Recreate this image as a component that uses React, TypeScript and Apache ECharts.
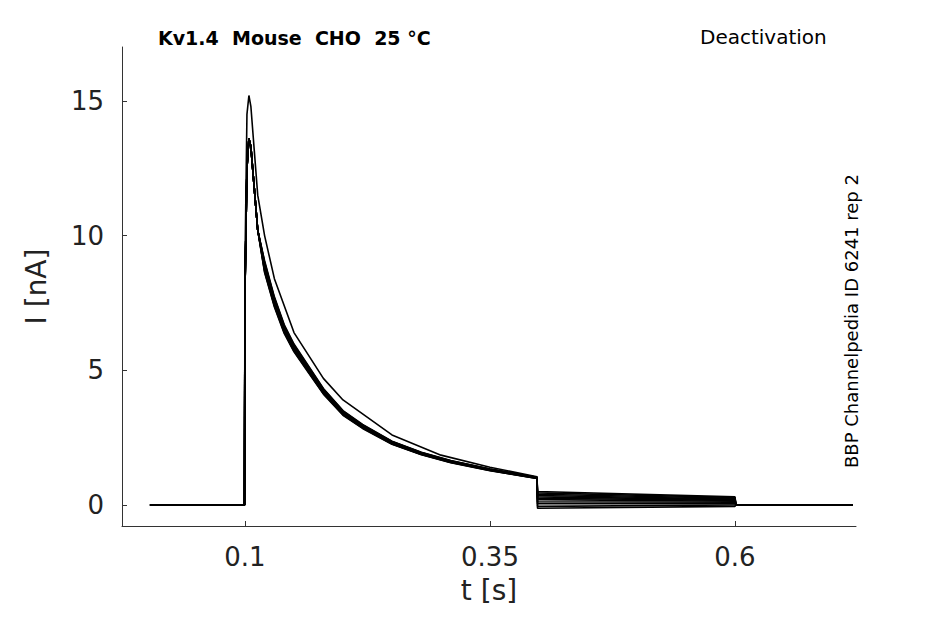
import { useEffect, useRef } from 'react'
import * as echarts from 'echarts'

const X_TICKS = [0.1, 0.35, 0.6]
const Y_TICKS = [0, 5, 10, 15]

// main (bulk) trace, [t, I]
const MAIN_TRACE: [number, number][] = [
  [0.003, 0], [0.0995, 0], [0.1, 8], [0.102, 12.5], [0.104, 13.6], [0.106, 13.3],
  [0.113, 10.2], [0.12, 8.8], [0.13, 7.5], [0.14, 6.5], [0.15, 5.8], [0.165, 5.0],
  [0.18, 4.2], [0.2, 3.4], [0.22, 2.9], [0.25, 2.3], [0.28, 1.9], [0.31, 1.6],
  [0.35, 1.3], [0.398, 1.0],
]
// first sweep, larger peak
const HIGH_TRACE: [number, number][] = [
  [0.003, 0], [0.0995, 0], [0.1, 9], [0.102, 14.5], [0.104, 15.2], [0.106, 14.8],
  [0.113, 11.5], [0.12, 10.0], [0.13, 8.4], [0.15, 6.4], [0.18, 4.7], [0.2, 3.9],
  [0.25, 2.6], [0.3, 1.85], [0.35, 1.4], [0.398, 1.05],
]
// slight spread in the decay band
const BAND_OFFSETS = [0, 0.15, -0.15, 0.3, -0.1, 0.2, 0.05, -0.2, 0.1, 0.25]
// tail levels at 0.4 s and 0.6 s per sweep
const TAIL_START = [0.5, 0.45, 0.4, 0.35, 0.3, 0.25, 0.2, 0.12, 0.05, -0.05, -0.12]
const TAIL_END = [0.3, 0.28, 0.25, 0.22, 0.2, 0.17, 0.14, 0.1, 0.05, 0, -0.05]

function buildSeries() {
  const series: any[] = []
  TAIL_START.forEach((start, i) => {
    const base = i === 0 ? HIGH_TRACE : MAIN_TRACE
    const off = i === 0 ? 0 : BAND_OFFSETS[(i - 1) % BAND_OFFSETS.length]
    const pts = base.map(([t, v]) => [t, t > 0.115 ? v * (1 + off * 0.1) : v])
    pts.push([0.3985, start], [0.6, TAIL_END[i]], [0.601, 0], [0.72, 0])
    series.push({
      type: 'line',
      data: pts,
      showSymbol: false,
      lineStyle: { color: '#000', width: 1.6 },
    })
  })
  return series
}

export default function App() {
  const ref = useRef<HTMLDivElement | null>(null)
  useEffect(() => {
    if (!ref.current) return
    const chart = echarts.init(ref.current, null, { renderer: 'svg' })
    const axisCol = '#333'
    chart.setOption({
      animation: false,
      backgroundColor: '#fff',
      grid: { left: 122, right: 89, top: 47, bottom: 98 },
      xAxis: {
        type: 'value',
        min: -0.0255,
        max: 0.7235,
        name: 't [s]',
        nameLocation: 'middle',
        nameGap: 50,
        nameTextStyle: { fontSize: 28, color: '#222', fontFamily: 'DejaVu Sans' },
        axisLine: { onZero: false, lineStyle: { color: axisCol } },
        axisTick: { inside: true, length: 5, customValues: X_TICKS, lineStyle: { color: axisCol } },
        axisLabel: {
          customValues: X_TICKS,
          fontSize: 26,
          color: '#222',
          margin: 18,
          fontFamily: 'DejaVu Sans',
          formatter: (v: number) => String(v),
        },
        splitLine: { show: false },
      },
      yAxis: {
        type: 'value',
        min: -0.78,
        max: 17,
        name: 'I [nA]',
        nameLocation: 'middle',
        nameGap: 72,
        nameTextStyle: { fontSize: 28, color: '#222', fontFamily: 'DejaVu Sans' },
        axisLine: { show: true, onZero: false, lineStyle: { color: axisCol } },
        axisTick: { show: true, inside: true, length: 5, customValues: Y_TICKS, lineStyle: { color: axisCol } },
        axisLabel: {
          customValues: Y_TICKS,
          fontSize: 26,
          color: '#222',
          margin: 18,
          fontFamily: 'DejaVu Sans',
        },
        splitLine: { show: false },
      },
      graphic: [
        {
          type: 'text',
          left: 158,
          top: 28,
          style: { text: 'Kv1.4  Mouse  CHO  25 °C', font: 'bold 19px DejaVu Sans', fill: '#000' },
        },
        {
          type: 'text',
          left: 700,
          top: 27,
          style: { text: 'Deactivation', font: '20px DejaVu Sans', fill: '#000' },
        },
        {
          type: 'text',
          x: 860,
          y: 468,
          rotation: Math.PI / 2,
          style: { text: 'BBP Channelpedia ID 6241 rep 2', font: '18px DejaVu Sans', fill: '#000', textVerticalAlign: 'bottom' },
        },
      ],
      series: buildSeries(),
    })
    return () => chart.dispose()
  }, [])
  return <div ref={ref} style={{ position: 'fixed', left: 0, top: 0, width: 945, height: 624 }} />
}
